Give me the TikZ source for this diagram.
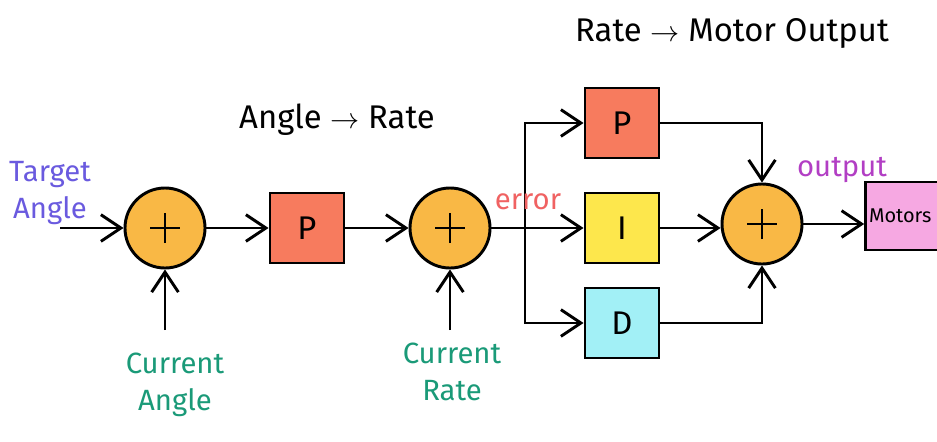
\documentclass[tikz,border=0pt]{standalone}
\usepackage{fontspec}
\setmainfont{Fira Sans}
\usetikzlibrary{arrows.meta}
\definecolor{sumc}{HTML}{F9B845}
\definecolor{pc}{HTML}{F77B5E}
\definecolor{ic}{HTML}{FDE74C}
\definecolor{dc}{HTML}{A2F0F6}
\definecolor{mc}{HTML}{F6A8E2}
\definecolor{bluet}{HTML}{6A5ADF}
\definecolor{greent}{HTML}{1A9A78}
\definecolor{redt}{HTML}{F06262}
\definecolor{purt}{HTML}{B23EC4}
\begin{document}
\begin{tikzpicture}[x=0.03cm,y=-0.03cm,line width=2.5pt,
  arr/.style={-{Straight Barb[length=0.6cm,width=0.8cm,line width=2.5pt]}},
  sum/.style={circle,draw,fill=sumc,minimum size=2.4cm,inner sep=0pt,line width=2.5pt,
    path picture={\draw[line width=2.3pt] ([xshift=-0.45cm]path picture bounding box.center) -- ([xshift=0.45cm]path picture bounding box.center);
                  \draw[line width=2.3pt] ([yshift=-0.45cm]path picture bounding box.center) -- ([yshift=0.45cm]path picture bounding box.center);}},
  blk/.style={rectangle,draw,minimum width=2.22cm,minimum height=2.1cm,inner sep=0pt,line width=2.5pt,font=\fontsize{28}{30}\selectfont},
  lbl/.style={font=\fontsize{25}{32}\selectfont,align=center,inner sep=0pt},
  head/.style={font=\fontsize{28}{32}\selectfont,inner sep=0pt}]
\useasboundingbox (0,0) rectangle (937,441);
\fill[white] (0,0) rectangle (937,441);
% nodes
\node[sum] (s1) at (165,228) {};
\node[blk,fill=pc] (p1) at (307,228) {P};
\node[sum] (s2) at (450,228) {};
\node[blk,fill=pc] (pp) at (622,123) {P};
\node[blk,fill=ic] (ii) at (622,228) {I};
\node[blk,fill=dc] (dd) at (622,323) {D};
\node[sum] (s3) at (762,224) {};
\node[rectangle,draw,fill=mc,minimum width=2.9cm,minimum height=2.04cm,inner sep=0pt] (mot) at (914,216) {};
\node[anchor=west,font=\fontsize{17}{20}\selectfont,inner sep=0pt] (motl) at ([xshift=0.1cm]mot.west) {Motors};
% free ends
\coordinate (ta) at (60,228);
\coordinate (ca) at (165,330);
\coordinate (cr) at (450,330);
\coordinate (br) at (525,228);
% connectors
\draw[arr] (ta) -- (s1);
\draw[arr] (ca) -- (s1);
\draw[arr] (s1) -- (p1);
\draw[arr] (p1) -- (s2);
\draw[arr] (cr) -- (s2);
\draw[arr] (s2) -- (ii);
\draw[arr] (br) |- (pp);
\draw[arr] (br) |- (dd);
\draw[arr] (pp.east) -| (s3.north);
\draw[arr] (ii) -- (ii -| s3.west);
\draw[arr] (dd.east) -| (s3.south);
\draw[arr] (s3) -- (s3 -| mot.west);
% labels
\node[lbl,text=bluet] (lta) at (50,193) {Target\\Angle};
\node[lbl,text=greent] (lca) at (175,385) {Current\\Angle};
\node[lbl,text=greent] (lcr) at (452,372) {Current\\Rate};
\node[lbl,text=redt] (ler) at (528,202) {error};
\node[lbl,text=purt] (lout) at (842,170) {output};
\node[head] (lar) at (337,120) {Angle $\to$ Rate};
\node[head] (lrm) at (732,33) {Rate $\to$ Motor Output};
\end{tikzpicture}
\end{document}
